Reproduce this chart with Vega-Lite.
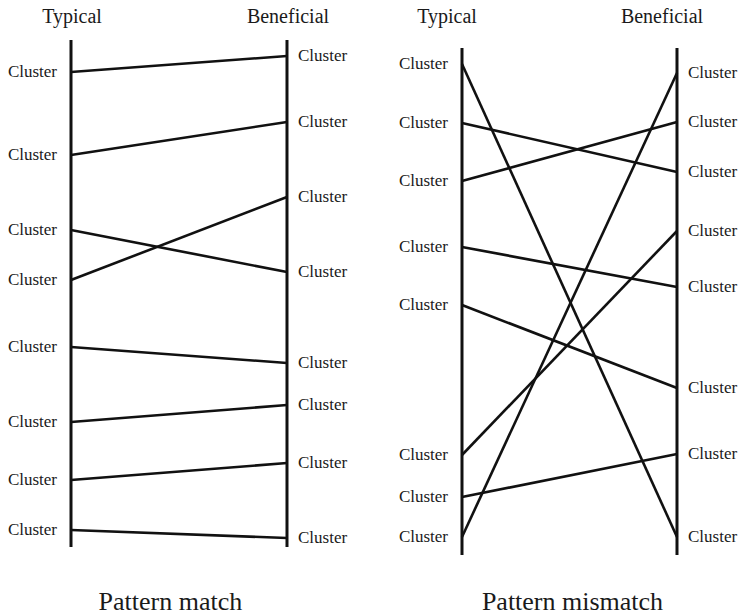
{
  "$schema": "https://vega.github.io/schema/vega-lite/v6.json",
  "padding": 0,
  "spacing": 0,
  "background": "white",
  "config": {
    "view": {"stroke": null},
    "font": "Liberation Serif, Times New Roman, serif",
    "text": {"font": "Liberation Serif, Times New Roman, serif", "color": "#1a1a1a"},
    "rule": {"color": "#111111"}
  },
  "datasets": {
    "axes": [
      {"panel": "match", "side": 0, "top": 40, "bottom": 547},
      {"panel": "match", "side": 1, "top": 40, "bottom": 547},
      {"panel": "mismatch", "side": 0, "top": 48, "bottom": 555},
      {"panel": "mismatch", "side": 1, "top": 48, "bottom": 555}
    ],
    "links": [
      {"panel": "match", "typical": 72, "beneficial": 56, "typical_label": "Cluster", "beneficial_label": "Cluster"},
      {"panel": "match", "typical": 155, "beneficial": 122, "typical_label": "Cluster", "beneficial_label": "Cluster"},
      {"panel": "match", "typical": 230, "beneficial": 272, "typical_label": "Cluster", "beneficial_label": "Cluster"},
      {"panel": "match", "typical": 280, "beneficial": 197, "typical_label": "Cluster", "beneficial_label": "Cluster"},
      {"panel": "match", "typical": 347, "beneficial": 363, "typical_label": "Cluster", "beneficial_label": "Cluster"},
      {"panel": "match", "typical": 422, "beneficial": 405, "typical_label": "Cluster", "beneficial_label": "Cluster"},
      {"panel": "match", "typical": 480, "beneficial": 463, "typical_label": "Cluster", "beneficial_label": "Cluster"},
      {"panel": "match", "typical": 530, "beneficial": 538, "typical_label": "Cluster", "beneficial_label": "Cluster"},
      {"panel": "mismatch", "typical": 64, "beneficial": 537, "typical_label": "Cluster", "beneficial_label": "Cluster"},
      {"panel": "mismatch", "typical": 123, "beneficial": 172, "typical_label": "Cluster", "beneficial_label": "Cluster"},
      {"panel": "mismatch", "typical": 181, "beneficial": 122, "typical_label": "Cluster", "beneficial_label": "Cluster"},
      {"panel": "mismatch", "typical": 247, "beneficial": 287, "typical_label": "Cluster", "beneficial_label": "Cluster"},
      {"panel": "mismatch", "typical": 305, "beneficial": 388, "typical_label": "Cluster", "beneficial_label": "Cluster"},
      {"panel": "mismatch", "typical": 455, "beneficial": 231, "typical_label": "Cluster", "beneficial_label": "Cluster"},
      {"panel": "mismatch", "typical": 497, "beneficial": 454, "typical_label": "Cluster", "beneficial_label": "Cluster"},
      {"panel": "mismatch", "typical": 537, "beneficial": 73, "typical_label": "Cluster", "beneficial_label": "Cluster"}
    ],
    "headers": [
      {"panel": "match", "side": 0, "label": "Typical"},
      {"panel": "match", "side": 1, "label": "Beneficial"},
      {"panel": "mismatch", "side": 0, "label": "Typical"},
      {"panel": "mismatch", "side": 1, "label": "Beneficial"}
    ],
    "titles": [
      {"panel": "match", "label": "Pattern match"},
      {"panel": "mismatch", "label": "Pattern mismatch"}
    ]
  },
  "hconcat": [
    {
      "width": 370,
      "height": 616,
      "layer": [
        {
          "data": {"name": "axes"},
          "transform": [{"filter": "datum.panel === 'match'"}],
          "mark": {"type": "rule", "strokeWidth": 3, "strokeCap": "butt"},
          "encoding": {
            "x": {"field": "side", "type": "quantitative", "axis": null, "scale": {"domain": [-0.3287, 1.3843], "nice": false, "zero": false}},
            "y": {"field": "top", "type": "quantitative", "axis": null, "scale": {"domain": [0, 616], "reverse": true, "nice": false, "zero": false}},
            "y2": {"field": "bottom"}
          }
        },
        {
          "data": {"name": "links"},
          "transform": [{"filter": "datum.panel === 'match'"}],
          "mark": {"type": "rule", "strokeWidth": 2.6, "strokeCap": "butt"},
          "encoding": {
            "x": {"datum": 0, "type": "quantitative", "axis": null, "scale": {"domain": [-0.3287, 1.3843], "nice": false, "zero": false}},
            "x2": {"datum": 1},
            "y": {"field": "typical", "type": "quantitative", "axis": null, "scale": {"domain": [0, 616], "reverse": true, "nice": false, "zero": false}},
            "y2": {"field": "beneficial"}
          }
        },
        {
          "data": {"name": "links"},
          "transform": [{"filter": "datum.panel === 'match'"}],
          "mark": {"type": "text", "font": "Liberation Serif", "align": "right", "baseline": "middle", "dx": -14, "fontSize": 17},
          "encoding": {
            "x": {"datum": 0, "type": "quantitative", "axis": null, "scale": {"domain": [-0.3287, 1.3843], "nice": false, "zero": false}},
            "y": {"field": "typical", "type": "quantitative", "axis": null, "scale": {"domain": [0, 616], "reverse": true, "nice": false, "zero": false}},
            "text": {"field": "typical_label"}
          }
        },
        {
          "data": {"name": "links"},
          "transform": [{"filter": "datum.panel === 'match'"}],
          "mark": {"type": "text", "font": "Liberation Serif", "align": "left", "baseline": "middle", "dx": 11, "fontSize": 17},
          "encoding": {
            "x": {"datum": 1, "type": "quantitative", "axis": null, "scale": {"domain": [-0.3287, 1.3843], "nice": false, "zero": false}},
            "y": {"field": "beneficial", "type": "quantitative", "axis": null, "scale": {"domain": [0, 616], "reverse": true, "nice": false, "zero": false}},
            "text": {"field": "beneficial_label"}
          }
        },
        {
          "data": {"name": "headers"},
          "transform": [{"filter": "datum.panel === 'match'"}],
          "mark": {"type": "text", "font": "Liberation Serif", "align": "center", "baseline": "alphabetic", "dx": 1, "fontSize": 20},
          "encoding": {
            "x": {"field": "side", "type": "quantitative", "axis": null, "scale": {"domain": [-0.3287, 1.3843], "nice": false, "zero": false}},
            "y": {"datum": 23, "type": "quantitative", "axis": null, "scale": {"domain": [0, 616], "reverse": true, "nice": false, "zero": false}},
            "text": {"field": "label"}
          }
        },
        {
          "data": {"name": "titles"},
          "transform": [{"filter": "datum.panel === 'match'"}],
          "mark": {"type": "text", "font": "Liberation Serif", "align": "center", "baseline": "alphabetic", "fontSize": 26},
          "encoding": {
            "x": {"datum": 0.46, "type": "quantitative", "axis": null, "scale": {"domain": [-0.3287, 1.3843], "nice": false, "zero": false}},
            "y": {"datum": 610, "type": "quantitative", "axis": null, "scale": {"domain": [0, 616], "reverse": true, "nice": false, "zero": false}},
            "text": {"field": "label"}
          }
        }
      ]
    },
    {
      "width": 369,
      "height": 616,
      "layer": [
        {
          "data": {"name": "axes"},
          "transform": [{"filter": "datum.panel === 'mismatch'"}],
          "mark": {"type": "rule", "strokeWidth": 3, "strokeCap": "butt"},
          "encoding": {
            "x": {"field": "side", "type": "quantitative", "axis": null, "scale": {"domain": [-0.4279, 1.2884], "nice": false, "zero": false}},
            "y": {"field": "top", "type": "quantitative", "axis": null, "scale": {"domain": [0, 616], "reverse": true, "nice": false, "zero": false}},
            "y2": {"field": "bottom"}
          }
        },
        {
          "data": {"name": "links"},
          "transform": [{"filter": "datum.panel === 'mismatch'"}],
          "mark": {"type": "rule", "strokeWidth": 2.6, "strokeCap": "butt"},
          "encoding": {
            "x": {"datum": 0, "type": "quantitative", "axis": null, "scale": {"domain": [-0.4279, 1.2884], "nice": false, "zero": false}},
            "x2": {"datum": 1},
            "y": {"field": "typical", "type": "quantitative", "axis": null, "scale": {"domain": [0, 616], "reverse": true, "nice": false, "zero": false}},
            "y2": {"field": "beneficial"}
          }
        },
        {
          "data": {"name": "links"},
          "transform": [{"filter": "datum.panel === 'mismatch'"}],
          "mark": {"type": "text", "font": "Liberation Serif", "align": "right", "baseline": "middle", "dx": -14, "fontSize": 17},
          "encoding": {
            "x": {"datum": 0, "type": "quantitative", "axis": null, "scale": {"domain": [-0.4279, 1.2884], "nice": false, "zero": false}},
            "y": {"field": "typical", "type": "quantitative", "axis": null, "scale": {"domain": [0, 616], "reverse": true, "nice": false, "zero": false}},
            "text": {"field": "typical_label"}
          }
        },
        {
          "data": {"name": "links"},
          "transform": [{"filter": "datum.panel === 'mismatch'"}],
          "mark": {"type": "text", "font": "Liberation Serif", "align": "left", "baseline": "middle", "dx": 11, "fontSize": 17},
          "encoding": {
            "x": {"datum": 1, "type": "quantitative", "axis": null, "scale": {"domain": [-0.4279, 1.2884], "nice": false, "zero": false}},
            "y": {"field": "beneficial", "type": "quantitative", "axis": null, "scale": {"domain": [0, 616], "reverse": true, "nice": false, "zero": false}},
            "text": {"field": "beneficial_label"}
          }
        },
        {
          "data": {"name": "headers"},
          "transform": [{"filter": "datum.panel === 'mismatch'"}],
          "mark": {"type": "text", "font": "Liberation Serif", "align": "center", "baseline": "alphabetic", "dx": -15, "fontSize": 20},
          "encoding": {
            "x": {"field": "side", "type": "quantitative", "axis": null, "scale": {"domain": [-0.4279, 1.2884], "nice": false, "zero": false}},
            "y": {"datum": 23, "type": "quantitative", "axis": null, "scale": {"domain": [0, 616], "reverse": true, "nice": false, "zero": false}},
            "text": {"field": "label"}
          }
        },
        {
          "data": {"name": "titles"},
          "transform": [{"filter": "datum.panel === 'mismatch'"}],
          "mark": {"type": "text", "font": "Liberation Serif", "align": "center", "baseline": "alphabetic", "fontSize": 26},
          "encoding": {
            "x": {"datum": 0.514, "type": "quantitative", "axis": null, "scale": {"domain": [-0.4279, 1.2884], "nice": false, "zero": false}},
            "y": {"datum": 610, "type": "quantitative", "axis": null, "scale": {"domain": [0, 616], "reverse": true, "nice": false, "zero": false}},
            "text": {"field": "label"}
          }
        }
      ]
    }
  ]
}
